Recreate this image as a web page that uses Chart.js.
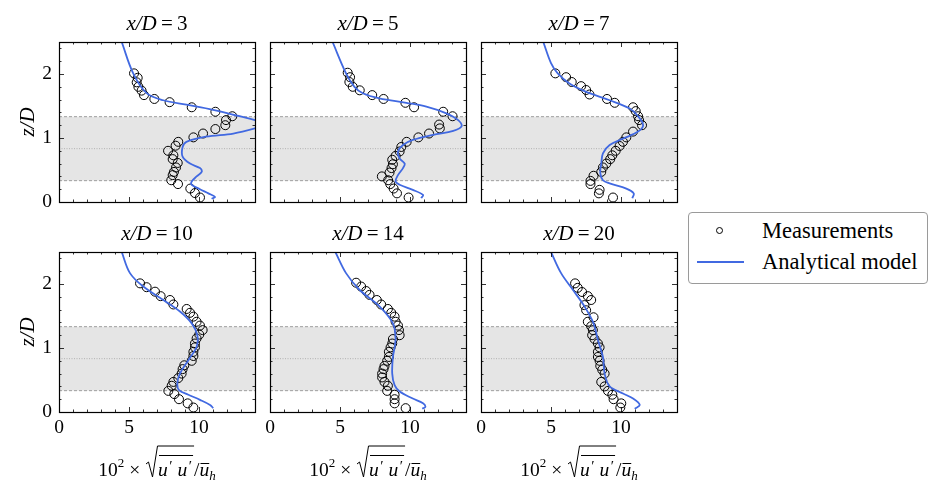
<!DOCTYPE html>
<html>
<head>
<meta charset="utf-8">
<script src="https://cdn.jsdelivr.net/npm/chart.js@4.4.0/dist/chart.umd.min.js"></script>
<style>
  body { margin: 0; background: #fff; width: 944px; height: 498px; position: relative; overflow: hidden; }
  .panel { position: absolute; width: 261px; height: 275px; }
  #legend { position: absolute; left: 688px; top: 212px; width: 240px; height: 72px; box-sizing: border-box;
            border: 1px solid #9a9a9a; border-radius: 4px; background: #fff;
            font-family: "Liberation Serif", serif; font-size: 22.5px; color: #000; }
  #legend .row { position: absolute; left: 0; height: 24px; line-height: 24px; width: 100%; }
  #legend .lab { position: absolute; left: 73px; top: 0; white-space: nowrap; }
  #legend .dot { position: absolute; left: 27px; top: 8px; width: 7px; height: 7px; border: 1px solid #000; border-radius: 50%; box-sizing: border-box; }
  #legend .ln { position: absolute; left: 8px; top: 11px; width: 47px; height: 2px; background: #4169e1; }
</style>
</head>
<body>
<div id="legend"></div>
<script>
// downstream stations x/D
const stations = [3, 5, 7, 10, 14, 20];
const seriesLabels = ['Measurements', 'Analytical model'];

// rotor bottom, hub height, rotor top (z/D)
const rotorBottom = 1 / 3, hubHeight = 5 / 6, rotorTop = 4 / 3;

// measurements: 10^2 * sqrt(u'u') / u_h  and  z/D
const measU_3 = [5.36, 5.62, 5.55, 5.67, 5.90, 6.07, 6.81, 7.90, 9.48, 11.17, 12.38, 11.93, 11.88, 11.17, 10.29, 9.60, 8.52, 8.33, 7.79, 8.17, 8.12, 8.48, 8.36, 8.21, 8.12, 8.02, 8.50, 9.38, 9.71, 10.07];
const measZ_3 = [2.01, 1.94, 1.87, 1.80, 1.74, 1.67, 1.61, 1.56, 1.48, 1.41, 1.34, 1.28, 1.20, 1.14, 1.07, 1.01, 0.94, 0.88, 0.80, 0.73, 0.67, 0.61, 0.54, 0.47, 0.42, 0.34, 0.28, 0.21, 0.14, 0.07];
const measU_5 = [5.55, 5.72, 5.67, 5.91, 6.41, 7.30, 8.11, 9.67, 10.29, 12.37, 13.04, 12.08, 12.13, 11.36, 10.60, 9.76, 9.38, 9.26, 8.97, 8.73, 8.78, 8.68, 8.54, 7.99, 8.44, 8.59, 8.83, 9.07, 9.90];
const measZ_5 = [2.02, 1.95, 1.875, 1.80, 1.745, 1.67, 1.61, 1.55, 1.48, 1.41, 1.34, 1.21, 1.15, 1.07, 1.01, 0.94, 0.86, 0.79, 0.72, 0.66, 0.59, 0.53, 0.46, 0.40, 0.34, 0.28, 0.21, 0.135, 0.07];
const measU_7 = [5.31, 6.08, 6.48, 7.15, 7.51, 7.75, 9.00, 9.55, 10.86, 11.05, 11.22, 11.29, 11.50, 10.86, 10.38, 10.14, 9.90, 9.62, 9.38, 9.23, 8.95, 8.71, 8.59, 8.04, 7.82, 7.82, 8.47, 8.42, 9.43];
const measZ_7 = [2.01, 1.95, 1.875, 1.81, 1.75, 1.68, 1.61, 1.55, 1.48, 1.42, 1.34, 1.28, 1.20, 1.10, 1.01, 0.94, 0.875, 0.80, 0.73, 0.67, 0.60, 0.54, 0.47, 0.41, 0.33, 0.28, 0.19, 0.135, 0.07];
const measU_10 = [5.79, 6.26, 6.86, 7.26, 7.93, 8.17, 9.12, 9.36, 9.60, 9.83, 10.07, 10.26, 10.02, 9.83, 9.71, 9.71, 9.60, 9.60, 9.48, 8.95, 8.83, 8.76, 8.52, 8.17, 8.05, 7.81, 8.24, 8.57, 9.19, 9.60];
const measZ_10 = [2.01, 1.95, 1.88, 1.81, 1.75, 1.68, 1.61, 1.55, 1.49, 1.41, 1.35, 1.28, 1.21, 1.15, 1.07, 1.01, 0.94, 0.875, 0.80, 0.73, 0.67, 0.60, 0.53, 0.47, 0.41, 0.33, 0.28, 0.20, 0.135, 0.07];
const measU_14 = [6.15, 6.51, 6.87, 7.11, 7.63, 7.94, 8.42, 8.66, 8.90, 8.97, 9.14, 9.21, 9.26, 8.78, 8.73, 8.61, 8.49, 8.49, 8.37, 8.18, 8.11, 8.01, 8.01, 8.18, 8.42, 8.37, 8.90, 8.90, 8.90, 9.69];
const measZ_14 = [2.02, 1.96, 1.89, 1.83, 1.75, 1.68, 1.61, 1.55, 1.49, 1.41, 1.35, 1.28, 1.20, 1.14, 1.07, 1.01, 0.94, 0.86, 0.80, 0.72, 0.67, 0.60, 0.54, 0.47, 0.41, 0.33, 0.27, 0.20, 0.135, 0.06];
const measU_20 = [6.72, 6.91, 7.22, 7.63, 7.87, 7.39, 7.51, 8.04, 7.63, 7.87, 7.99, 7.94, 8.11, 8.35, 8.47, 8.35, 8.35, 8.47, 8.52, 8.66, 8.83, 8.59, 8.83, 9.07, 9.38, 9.47, 10.02, 9.95];
const measZ_20 = [2.01, 1.94, 1.875, 1.81, 1.75, 1.67, 1.59, 1.48, 1.41, 1.34, 1.28, 1.20, 1.14, 1.07, 1.01, 0.94, 0.86, 0.80, 0.72, 0.66, 0.60, 0.47, 0.40, 0.33, 0.27, 0.20, 0.135, 0.07];

// analytical model
const modelU_3 = [4.48, 5.30, 6.26, 7.45, 9.10, 11.00, 12.90, 14.00, 14.80, 14.00, 12.45, 10.50, 9.10, 8.83, 8.83, 9.36, 10.07, 10.19, 9.83, 9.48, 9.48, 10.07, 10.67, 11.14, 10.90];
const modelZ_3 = [2.50, 2.01, 1.70, 1.59, 1.52, 1.44, 1.34, 1.28, 1.21, 1.15, 1.07, 1.02, 0.94, 0.86, 0.71, 0.60, 0.53, 0.47, 0.40, 0.32, 0.27, 0.20, 0.135, 0.08, 0.05];
const modelU_5 = [4.47, 5.43, 6.03, 6.63, 7.82, 9.74, 11.17, 12.60, 13.44, 13.68, 13.09, 11.65, 10.20, 9.50, 9.14, 9.26, 9.62, 9.50, 9.14, 8.97, 9.26, 10.20, 10.93, 10.80];
const modelZ_5 = [2.50, 2.01, 1.80, 1.70, 1.62, 1.55, 1.49, 1.385, 1.28, 1.18, 1.11, 1.05, 0.97, 0.89, 0.79, 0.68, 0.60, 0.53, 0.42, 0.32, 0.27, 0.19, 0.11, 0.06];
const modelU_7 = [4.45, 5.00, 5.48, 6.32, 7.51, 9.19, 10.62, 11.22, 11.58, 11.22, 10.14, 9.19, 8.71, 8.59, 8.52, 8.71, 9.19, 10.38, 10.91, 10.81];
const modelZ_7 = [2.50, 2.17, 2.01, 1.85, 1.72, 1.59, 1.46, 1.34, 1.20, 1.10, 0.99, 0.89, 0.76, 0.60, 0.45, 0.34, 0.29, 0.21, 0.135, 0.06];
const modelU_10 = [4.48, 5.07, 6.02, 7.45, 8.64, 9.48, 9.88, 9.83, 9.24, 8.64, 8.45, 8.57, 9.24, 10.07, 10.79, 11.02];
const modelZ_10 = [2.50, 2.17, 1.96, 1.75, 1.57, 1.385, 1.20, 1.02, 0.81, 0.60, 0.45, 0.34, 0.27, 0.19, 0.11, 0.06];
const modelU_14 = [4.67, 5.43, 6.39, 7.82, 8.78, 8.97, 8.78, 8.73, 8.90, 9.26, 10.20, 10.93, 11.10, 10.88];
const modelZ_14 = [2.50, 2.17, 1.91, 1.65, 1.385, 1.125, 0.86, 0.60, 0.42, 0.32, 0.21, 0.135, 0.08, 0.05];
const modelU_20 = [5.00, 5.72, 6.56, 7.39, 8.04, 8.35, 8.71, 8.83, 9.19, 10.14, 10.86, 11.34, 10.98];
const modelZ_20 = [2.50, 2.17, 1.91, 1.65, 1.385, 1.125, 0.86, 0.60, 0.40, 0.29, 0.21, 0.11, 0.05];

const measU = [measU_3, measU_5, measU_7, measU_10, measU_14, measU_20];
const measZ = [measZ_3, measZ_5, measZ_7, measZ_10, measZ_14, measZ_20];
const modelU = [modelU_3, modelU_5, modelU_7, modelU_10, modelU_14, modelU_20];
const modelZ = [modelZ_3, modelZ_5, modelZ_7, modelZ_10, modelZ_14, modelZ_20];

const SERIF = '"Liberation Serif", "DejaVu Serif", serif';
const modelColor = '#4169e1';
Chart.defaults.font.family = SERIF;
Chart.defaults.color = '#000';

// plot-area positions on the page
const plotLefts = [59, 270, 481];
const plotTops = [42, 252];
const padLeft = 59, padTop = 40, padBottom = 75;

function toPoints(us, zs) {
  return us.map(function(u, k) { return {x: u, y: zs[k]}; });
}

// x-axis label: 10^2 x sqrt(u'u') / u_h
function drawXLabel(ctx, cx, yb) {
  var big = '19.5px ' + SERIF, it = 'italic 19.5px ' + SERIF,
      sup = '13px ' + SERIF, itSub = 'italic 13px ' + SERIF, prime = '15px ' + SERIF;
  var parts = [
    {t: '10', f: big, dy: 0},
    {t: '2', f: sup, dy: -9},
    {t: ' \u00d7 ', f: big, dy: 0},
    {rad: true, w: 13},
    {t: 'u', f: it, dy: 0, inStart: true},
    {gap: 1.5},
    {t: '\u2032', f: prime, dy: -5},
    {gap: 5},
    {t: 'u', f: it, dy: 0},
    {gap: 1.5},
    {t: '\u2032', f: prime, dy: -5},
    {gap: 2, inEnd: true},
    {t: '/', f: big, dy: 0},
    {t: 'u', f: it, dy: 0, bar: true},
    {t: 'h', f: itSub, dy: 4}
  ];
  var total = 0;
  parts.forEach(function(p) {
    if (p.gap !== undefined) p.w = p.gap;
    else if (!p.rad) { ctx.font = p.f; p.w = ctx.measureText(p.t).width; }
    total += p.w;
  });
  var x = cx - total / 2, radStart = 0, inStart = 0;
  ctx.save();
  ctx.fillStyle = '#000'; ctx.strokeStyle = '#000';
  ctx.textBaseline = 'alphabetic'; ctx.textAlign = 'left';
  ctx.lineWidth = 1;
  parts.forEach(function(p) {
    if (p.rad) radStart = x;
    if (p.inStart) inStart = x;
    if (p.t !== undefined) {
      ctx.font = p.f;
      ctx.fillText(p.t, x, yb + p.dy);
    }
    if (p.inEnd) {
      var end = x + p.w;
      // radical sign with vinculum
      ctx.beginPath();
      ctx.moveTo(radStart + 1, yb - 12);
      ctx.lineTo(radStart + 3.5, yb - 14);
      ctx.lineTo(radStart + 7.5, yb + 1);
      ctx.lineTo(radStart + 12.5, yb - 30);
      ctx.lineTo(end, yb - 30);
      ctx.stroke();
      // mean bar over u'u'
      ctx.beginPath();
      ctx.moveTo(inStart + 1, yb - 20.5);
      ctx.lineTo(end - 1, yb - 20.5);
      ctx.stroke();
    }
    if (p.bar) {
      ctx.beginPath();
      ctx.moveTo(x + 1, yb - 12.5);
      ctx.lineTo(x + p.w, yb - 12.5);
      ctx.stroke();
    }
    x += p.w;
  });
  ctx.restore();
}

const panelPlugin = {
  id: 'panel',
  beforeDatasetsDraw(chart) {
    const ctx = chart.ctx, a = chart.chartArea, y = chart.scales.y;
    const pb = y.getPixelForValue(rotorBottom), pt = y.getPixelForValue(rotorTop), ph = y.getPixelForValue(hubHeight);
    ctx.save();
    ctx.beginPath(); ctx.rect(a.left, a.top, a.right - a.left, a.bottom - a.top); ctx.clip();
    ctx.fillStyle = '#e5e5e5';
    ctx.fillRect(a.left, pt, a.right - a.left, pb - pt);
    ctx.lineWidth = 0.8;
    ctx.strokeStyle = '#8a8a8a';
    ctx.setLineDash([3, 2]);
    [pb, pt].forEach(function(p) {
      ctx.beginPath(); ctx.moveTo(a.left, p); ctx.lineTo(a.right, p); ctx.stroke();
    });
    ctx.strokeStyle = '#a5a5a5';
    ctx.setLineDash([1, 1.5]);
    ctx.beginPath(); ctx.moveTo(a.left, ph); ctx.lineTo(a.right, ph); ctx.stroke();
    ctx.restore();
  },
  afterDraw(chart, args, opts) {
    const ctx = chart.ctx, a = chart.chartArea, xs = chart.scales.x, ys = chart.scales.y;
    ctx.save();
    ctx.strokeStyle = '#000';
    // inward ticks on all four sides
    ctx.lineWidth = 0.8;
    ctx.beginPath();
    for (let v = xs.min; v <= xs.max + 1e-9; v += 1) {
      const p = Math.round(xs.getPixelForValue(v)) + 0.5;
      const len = (v % 5 === 0) ? 5 : 2.5;
      ctx.moveTo(p, a.bottom); ctx.lineTo(p, a.bottom - len);
      ctx.moveTo(p, a.top); ctx.lineTo(p, a.top + len);
    }
    for (let k = 0; k * 0.2 <= ys.max + 1e-9; k++) {
      const p = Math.round(ys.getPixelForValue(k * 0.2)) + 0.5;
      const len = (k % 5 === 0) ? 5 : 2.5;
      ctx.moveTo(a.left, p); ctx.lineTo(a.left + len, p);
      ctx.moveTo(a.right, p); ctx.lineTo(a.right - len, p);
    }
    ctx.stroke();
    // frame
    ctx.lineWidth = 1.2;
    ctx.strokeRect(a.left + 0.5, a.top + 0.5, a.right - a.left, a.bottom - a.top);
    // panel title  x/D = n
    ctx.fillStyle = '#000';
    ctx.textBaseline = 'middle';
    ctx.textAlign = 'left';
    ctx.font = 'italic 21px ' + SERIF;
    const w1 = ctx.measureText('x/D').width;
    ctx.font = '21px ' + SERIF;
    const rest = '\u2009=\u2009' + opts.station;
    const w2 = ctx.measureText(rest).width;
    const tx = (a.left + a.right) / 2 - (w1 + w2) / 2, ty = a.top - 18;
    ctx.font = 'italic 21px ' + SERIF;
    ctx.fillText('x/D', tx, ty);
    ctx.font = '21px ' + SERIF;
    ctx.fillText(rest, tx + w1, ty);
    ctx.restore();
    if (opts.xlabel) drawXLabel(ctx, (a.left + a.right) / 2, a.bottom + 64);
  }
};

function makePanel(i) {
  const col = i % 3, row = Math.floor(i / 3);
  const div = document.createElement('div');
  div.className = 'panel';
  div.style.left = (plotLefts[col] - padLeft) + 'px';
  div.style.top = (plotTops[row] - padTop) + 'px';
  const canvas = document.createElement('canvas');
  div.appendChild(canvas);
  document.body.appendChild(div);

  new Chart(canvas, {
    type: 'scatter',
    data: {
      datasets: [
        {
          label: seriesLabels[1],
          data: toPoints(modelU[i], modelZ[i]),
          showLine: true,
          borderColor: modelColor,
          borderWidth: 1.8,
          pointRadius: 0,
          pointHoverRadius: 0,
          tension: 0.35,
          fill: false
        },
        {
          label: seriesLabels[0],
          data: toPoints(measU[i], measZ[i]),
          pointRadius: 4.5,
          pointHoverRadius: 4.5,
          borderColor: '#000',
          borderWidth: 1,
          backgroundColor: 'rgba(0,0,0,0)'
        }
      ]
    },
    options: {
      responsive: true,
      maintainAspectRatio: false,
      animation: false,
      devicePixelRatio: 1,
      elements: { line: { capBezierPoints: false } },
      layout: { padding: { top: padTop, right: 6, bottom: 0, left: 0 } },
      plugins: {
        legend: { display: false },
        tooltip: { enabled: false },
        panel: { station: stations[i], xlabel: row === 1 }
      },
      scales: {
        x: {
          type: 'linear', min: 0, max: 14,
          grid: { display: false, drawTicks: false },
          border: { display: false },
          afterFit: function(s) { s.height = padBottom; },
          ticks: {
            display: row === 1, stepSize: 5, includeBounds: false, padding: 4,
            font: { family: SERIF, size: 19.5 }
          }
        },
        y: {
          type: 'linear', min: 0, max: 2.5,
          grid: { display: false, drawTicks: false },
          border: { display: false },
          afterFit: function(s) { s.width = padLeft; },
          title: {
            display: col === 0, text: 'z/D',
            font: { family: SERIF, size: 21, style: 'italic' },
            padding: { top: 16, bottom: 0 }
          },
          ticks: {
            display: col === 0, stepSize: 1, includeBounds: false, padding: 7,
            font: { family: SERIF, size: 19.5 }
          }
        }
      }
    },
    plugins: [panelPlugin]
  });
}

for (let i = 0; i < stations.length; i++) makePanel(i);

// legend built from the series labels
const legend = document.getElementById('legend');
seriesLabels.forEach(function(lab, k) {
  const row = document.createElement('div');
  row.className = 'row';
  row.style.top = (k === 0 ? 6 : 37) + 'px';
  const mark = document.createElement('span');
  mark.className = k === 0 ? 'dot' : 'ln';
  const txt = document.createElement('span');
  txt.className = 'lab';
  txt.textContent = lab;
  row.appendChild(mark);
  row.appendChild(txt);
  legend.appendChild(row);
});
</script>
</body>
</html>
